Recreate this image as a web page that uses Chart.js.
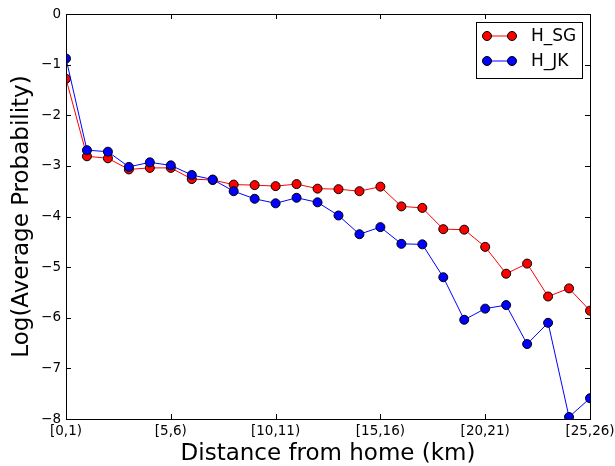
<!DOCTYPE html>
<html>
<head>
<meta charset="utf-8">
<script src="https://cdn.jsdelivr.net/npm/chart.js@4.4.1/dist/chart.umd.min.js"></script>
<style>
  html, body { margin: 0; padding: 0; background: #fff; }
  canvas { display: block; }
</style>
</head>
<body>
<canvas id="distChart" width="615" height="466"></canvas>
<script>
// distance bins
const categories = [
    '[0,1)', '[1,2)', '[2,3)', '[3,4)', '[4,5)', '[5,6)', '[6,7)', '[7,8)', '[8,9)',
    '[9,10)', '[10,11)', '[11,12)', '[12,13)', '[13,14)', '[14,15)', '[15,16)',
    '[16,17)', '[17,18)', '[18,19)', '[19,20)', '[20,21)', '[21,22)', '[22,23)',
    '[23,24)', '[24,25)', '[25,26)'
];
const xTickLabels = ['[0,1)', '[5,6)', '[10,11)', '[15,16)', '[20,21)', '[25,26)'];

// log(average probability) per bin
const hSG = [-1.28, -2.81, -2.85, -3.07, -3.04, -3.04, -3.26, -3.28, -3.37, -3.38,
    -3.40, -3.36, -3.45, -3.46, -3.50, -3.41, -3.80, -3.83, -4.25, -4.26,
    -4.60, -5.13, -4.93, -5.58, -5.42, -5.86];
const hJK = [-0.88, -2.69, -2.72, -3.02, -2.93, -2.99, -3.18, -3.27, -3.50, -3.65,
    -3.74, -3.63, -3.72, -3.98, -4.35, -4.21, -4.54, -4.55, -5.20, -6.04,
    -5.82, -5.75, -6.52, -6.10, -7.96, -7.59];

const yMin = -8;
const yMax = 0;

const FONT = '"DejaVu Sans", "Liberation Sans", sans-serif';

// matplotlib style frame with inward ticks on all four sides
const framePlugin = {
    id: 'frame',
    afterDatasetsDraw(chart) {
        const { ctx, chartArea: a, scales } = chart;
        const len = 5;
        ctx.save();
        ctx.strokeStyle = '#000';
        ctx.lineWidth = 1;
        ctx.beginPath();
        scales.x.ticks.forEach((t, i) => {
            if (!xTickLabels.includes(categories[t.value])) return;
            const px = Math.round(scales.x.getPixelForTick(i)) + 0.5;
            ctx.moveTo(px, a.bottom);
            ctx.lineTo(px, a.bottom - len);
            ctx.moveTo(px, a.top);
            ctx.lineTo(px, a.top + len);
        });
        scales.y.ticks.forEach((t, i) => {
            const py = Math.round(scales.y.getPixelForTick(i)) + 0.5;
            ctx.moveTo(a.left, py);
            ctx.lineTo(a.left + len, py);
            ctx.moveTo(a.right, py);
            ctx.lineTo(a.right - len, py);
        });
        ctx.stroke();
        ctx.strokeRect(Math.round(a.left) + 0.5, Math.round(a.top) + 0.5,
            Math.round(a.right - a.left), Math.round(a.bottom - a.top));
        ctx.restore();
    }
};

// legend box in the upper right corner: line with two markers per entry
const legendPlugin = {
    id: 'boxLegend',
    afterDraw(chart) {
        const { ctx, chartArea: a } = chart;
        const w = 106, h = 56;
        const x0 = a.right - 8 - w;
        const y0 = a.top + 8;
        ctx.save();
        ctx.fillStyle = '#fff';
        ctx.fillRect(x0, y0, w, h);
        ctx.strokeStyle = '#000';
        ctx.lineWidth = 1;
        ctx.strokeRect(Math.round(x0) + 0.5, Math.round(y0) + 0.5, w, h);
        chart.data.datasets.forEach((ds, i) => {
            const y = y0 + 14 + i * 25;
            ctx.strokeStyle = ds.borderColor;
            ctx.lineWidth = 1;
            ctx.beginPath();
            ctx.moveTo(x0 + 11, y);
            ctx.lineTo(x0 + 36, y);
            ctx.stroke();
            [x0 + 11, x0 + 36].forEach(mx => {
                ctx.beginPath();
                ctx.arc(mx, y, 4.5, 0, Math.PI * 2);
                ctx.fillStyle = ds.pointBackgroundColor;
                ctx.fill();
                ctx.strokeStyle = '#000';
                ctx.stroke();
            });
            ctx.fillStyle = '#000';
            ctx.font = '17px ' + FONT;
            ctx.textBaseline = 'middle';
            ctx.textAlign = 'left';
            ctx.fillText(ds.label, x0 + 55, y + 1);
        });
        ctx.restore();
    }
};

const ctx = document.getElementById('distChart').getContext('2d');

new Chart(ctx, {
    type: 'line',
    data: {
        labels: categories,
        datasets: [{
            label: 'H_SG',
            data: hSG,
            borderColor: '#ff0000',
            backgroundColor: '#ff0000',
            pointBackgroundColor: '#ff0000',
            pointBorderColor: '#000',
            borderWidth: 1,
            pointBorderWidth: 1,
            pointRadius: 4.5,
            tension: 0,
            clip: 0,
            order: 1
        }, {
            label: 'H_JK',
            data: hJK,
            borderColor: '#0000ff',
            backgroundColor: '#0000ff',
            pointBackgroundColor: '#0000ff',
            pointBorderColor: '#000',
            borderWidth: 1,
            pointBorderWidth: 1,
            pointRadius: 4.5,
            tension: 0,
            clip: 0,
            order: 0
        }]
    },
    options: {
        responsive: false,
        animation: false,
        events: [],
        layout: { padding: { left: 0, right: 25, top: 14, bottom: 0 } },
        plugins: {
            legend: { display: false },
            tooltip: { enabled: false }
        },
        scales: {
            x: {
                type: 'category',
                offset: false,
                grid: { display: false, drawTicks: false, tickLength: 0 },
                border: { display: false },
                ticks: {
                    autoSkip: false,
                    maxRotation: 0,
                    minRotation: 0,
                    padding: 4,
                    color: '#000',
                    font: { family: FONT, size: 13.5 },
                    callback(value, index) {
                        const lbl = categories[index];
                        return xTickLabels.includes(lbl) ? lbl : '';
                    }
                },
                title: {
                    display: true,
                    text: 'Distance from home (km)',
                    color: '#000',
                    font: { family: FONT, size: 23, lineHeight: 1 },
                    padding: { top: 0, bottom: 0 }
                },
                afterFit(scale) {
                    scale.height = 47;
                    scale.paddingLeft = 0;
                    scale.paddingRight = 0;
                }
            },
            y: {
                min: yMin,
                max: yMax,
                grid: { display: false, drawTicks: false, tickLength: 0 },
                border: { display: false },
                ticks: {
                    stepSize: 1,
                    padding: 5,
                    color: '#000',
                    font: { family: FONT, size: 13.5 },
                    callback: v => String(v).replace('-', '\u2212')
                },
                title: {
                    display: true,
                    text: 'Log(Average Probability)',
                    color: '#000',
                    font: { family: FONT, size: 23, lineHeight: 1 },
                    padding: { top: 11, bottom: 0 }
                },
                afterFit(scale) {
                    scale.width = 66;
                    scale.paddingTop = 0;
                    scale.paddingBottom = 0;
                }
            }
        }
    },
    plugins: [framePlugin, legendPlugin]
});
</script>
</body>
</html>
